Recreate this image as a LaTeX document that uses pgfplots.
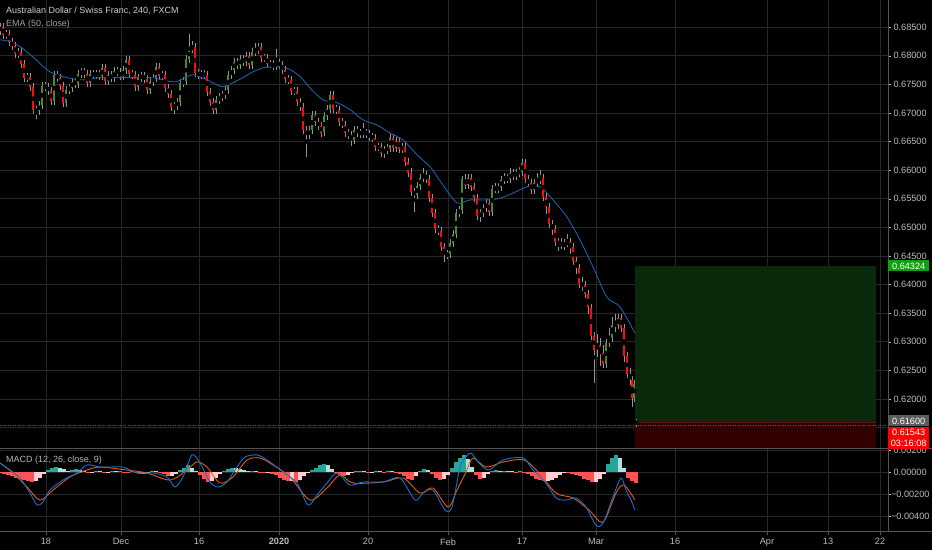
\documentclass[border=0pt]{standalone}
\usepackage{pgfplots}
\pgfplotsset{compat=1.18}
\usepackage{pgfplotstable}
\usepackage{fontspec}
\setmainfont{Liberation Sans}

\definecolor{upc}{RGB}{70,140,40}
\definecolor{dnc}{RGB}{250,12,12}
\definecolor{wickc}{RGB}{150,150,150}
\definecolor{emac}{RGB}{28,95,165}
\definecolor{macdc}{RGB}{22,112,210}
\definecolor{sigc}{RGB}{232,92,12}
\definecolor{hgrow}{RGB}{38,166,154}
\definecolor{hfall}{RGB}{178,223,219}
\definecolor{lgrow}{RGB}{255,205,210}
\definecolor{lfall}{RGB}{255,82,82}
\definecolor{gridc}{RGB}{40,40,40}
\definecolor{labc}{RGB}{188,188,188}
\definecolor{sepc}{RGB}{85,85,85}
\definecolor{tpfill}{RGB}{10,40,10}
\definecolor{slfill}{RGB}{50,0,0}
\definecolor{tplab}{RGB}{16,160,16}
\definecolor{curgrey}{RGB}{92,92,92}

% 4h candles (grouped), x in pixels of the time scale
\pgfplotstableread{
x o h l c
0 0.6844 0.6857 0.6837 0.6850
3 0.6850 0.6857 0.6829 0.6836
6 0.6836 0.6846 0.6829 0.6839
9 0.6839 0.6846 0.6817 0.6824
12 0.6824 0.6831 0.6811 0.6818
15 0.6818 0.6825 0.6796 0.6803
18 0.6803 0.6813 0.6796 0.6806
21 0.6806 0.6813 0.6779 0.6786
24 0.6786 0.6793 0.6755 0.6762
27 0.6762 0.6770 0.6755 0.6763
30 0.6763 0.6770 0.6738 0.6745
33 0.6745 0.6752 0.6698 0.6705
36 0.6705 0.6712 0.6690 0.6704
39 0.6704 0.6721 0.6697 0.6714
42 0.6714 0.6755 0.6707 0.6748
45 0.6748 0.6755 0.6738 0.6745
48 0.6745 0.6752 0.6732 0.6739
51 0.6739 0.6746 0.6714 0.6721
54 0.6721 0.6773 0.6714 0.6766
57 0.6766 0.6773 0.6754 0.6761
60 0.6761 0.6768 0.6741 0.6748
63 0.6748 0.6755 0.6710 0.6717
66 0.6717 0.6748 0.6710 0.6741
69 0.6741 0.6751 0.6734 0.6744
72 0.6744 0.6762 0.6737 0.6755
75 0.6755 0.6762 0.6744 0.6751
78 0.6751 0.6776 0.6744 0.6769
81 0.6769 0.6779 0.6762 0.6772
84 0.6772 0.6779 0.6762 0.6769
87 0.6769 0.6776 0.6745 0.6752
90 0.6752 0.6776 0.6745 0.6769
93 0.6769 0.6776 0.6759 0.6766
96 0.6766 0.6776 0.6759 0.6769
99 0.6769 0.6776 0.6758 0.6765
102 0.6765 0.6785 0.6758 0.6778
105 0.6778 0.6785 0.6749 0.6756
108 0.6756 0.6773 0.6749 0.6766
111 0.6766 0.6773 0.6754 0.6761
114 0.6761 0.6780 0.6754 0.6773
117 0.6773 0.6780 0.6765 0.6772
120 0.6772 0.6779 0.6757 0.6764
123 0.6764 0.6782 0.6757 0.6775
126 0.6775 0.6799 0.6768 0.6792
129 0.6792 0.6799 0.6761 0.6768
132 0.6768 0.6775 0.6759 0.6766
135 0.6766 0.6773 0.6738 0.6745
138 0.6745 0.6769 0.6738 0.6762
141 0.6762 0.6772 0.6755 0.6765
144 0.6765 0.6772 0.6752 0.6759
147 0.6759 0.6766 0.6733 0.6740
150 0.6740 0.6762 0.6733 0.6755
153 0.6755 0.6768 0.6748 0.6761
156 0.6761 0.6787 0.6754 0.6780
159 0.6780 0.6787 0.6758 0.6765
162 0.6765 0.6773 0.6758 0.6766
165 0.6766 0.6773 0.6737 0.6744
168 0.6744 0.6751 0.6727 0.6734
171 0.6734 0.6741 0.6703 0.6710
174 0.6710 0.6720 0.6699 0.6713
177 0.6713 0.6726 0.6706 0.6719
180 0.6719 0.6759 0.6712 0.6752
183 0.6752 0.6763 0.6745 0.6756
186 0.6756 0.6801 0.6749 0.6794
189 0.6794 0.6838 0.6787 0.6812
192 0.6812 0.6826 0.6805 0.6815
195 0.6815 0.6822 0.6763 0.6770
198 0.6770 0.6777 0.6760 0.6767
201 0.6767 0.6775 0.6760 0.6768
204 0.6768 0.6775 0.6759 0.6766
207 0.6766 0.6773 0.6730 0.6737
210 0.6737 0.6744 0.6713 0.6720
213 0.6720 0.6727 0.6698 0.6705
216 0.6705 0.6729 0.6698 0.6722
219 0.6722 0.6735 0.6715 0.6728
222 0.6728 0.6738 0.6721 0.6731
225 0.6731 0.6747 0.6724 0.6740
228 0.6740 0.6774 0.6733 0.6767
231 0.6767 0.6782 0.6760 0.6775
234 0.6775 0.6797 0.6768 0.6790
237 0.6790 0.6797 0.6777 0.6784
240 0.6784 0.6802 0.6777 0.6795
243 0.6795 0.6802 0.6782 0.6789
246 0.6789 0.6807 0.6782 0.6800
249 0.6800 0.6807 0.6777 0.6784
252 0.6784 0.6813 0.6777 0.6806
255 0.6806 0.6822 0.6799 0.6810
258 0.6810 0.6822 0.6803 0.6815
261 0.6815 0.6822 0.6789 0.6796
264 0.6796 0.6804 0.6789 0.6797
267 0.6797 0.6804 0.6779 0.6786
270 0.6786 0.6793 0.6778 0.6785
273 0.6785 0.6792 0.6775 0.6782
276 0.6782 0.6812 0.6775 0.6788
279 0.6788 0.6795 0.6777 0.6784
282 0.6784 0.6791 0.6769 0.6776
285 0.6776 0.6783 0.6752 0.6759
288 0.6759 0.6766 0.6750 0.6757
291 0.6757 0.6764 0.6731 0.6738
294 0.6738 0.6745 0.6731 0.6739
297 0.6739 0.6745 0.6712 0.6719
300 0.6719 0.6726 0.6703 0.6710
303 0.6710 0.6717 0.6663 0.6670
306 0.6670 0.6677 0.6623 0.6661
309 0.6661 0.6677 0.6654 0.6670
312 0.6670 0.6704 0.6663 0.6697
315 0.6697 0.6704 0.6677 0.6684
318 0.6684 0.6691 0.6671 0.6678
321 0.6678 0.6685 0.6659 0.6666
324 0.6666 0.6702 0.6659 0.6695
327 0.6695 0.6714 0.6688 0.6707
330 0.6707 0.6738 0.6700 0.6731
333 0.6731 0.6738 0.6700 0.6707
336 0.6707 0.6714 0.6699 0.6706
339 0.6706 0.6713 0.6677 0.6684
342 0.6684 0.6691 0.6673 0.6680
345 0.6680 0.6687 0.6658 0.6665
348 0.6665 0.6672 0.6655 0.6662
351 0.6662 0.6669 0.6642 0.6653
354 0.6653 0.6678 0.6646 0.6671
357 0.6671 0.6678 0.6659 0.6666
360 0.6666 0.6673 0.6657 0.6664
363 0.6664 0.6682 0.6657 0.6666
366 0.6666 0.6673 0.6657 0.6664
369 0.6664 0.6671 0.6651 0.6658
372 0.6658 0.6665 0.6650 0.6657
375 0.6657 0.6664 0.6633 0.6640
378 0.6640 0.6648 0.6633 0.6641
381 0.6641 0.6648 0.6623 0.6630
384 0.6630 0.6643 0.6622 0.6636
387 0.6636 0.6646 0.6629 0.6639
390 0.6639 0.6664 0.6632 0.6657
393 0.6657 0.6664 0.6632 0.6639
396 0.6639 0.6659 0.6632 0.6652
399 0.6652 0.6659 0.6630 0.6637
402 0.6637 0.6647 0.6630 0.6640
405 0.6640 0.6647 0.6607 0.6614
408 0.6614 0.6621 0.6589 0.6596
411 0.6596 0.6603 0.6555 0.6562
414 0.6562 0.6569 0.6527 0.6557
417 0.6557 0.6579 0.6550 0.6572
420 0.6572 0.6594 0.6565 0.6587
423 0.6587 0.6603 0.6580 0.6591
426 0.6591 0.6598 0.6578 0.6585
429 0.6585 0.6592 0.6544 0.6551
432 0.6551 0.6558 0.6519 0.6526
435 0.6526 0.6533 0.6490 0.6497
438 0.6497 0.6504 0.6486 0.6493
441 0.6493 0.6500 0.6458 0.6465
444 0.6465 0.6472 0.6439 0.6452
447 0.6452 0.6460 0.6445 0.6453
450 0.6453 0.6479 0.6446 0.6472
453 0.6472 0.6495 0.6465 0.6488
456 0.6488 0.6533 0.6481 0.6526
459 0.6526 0.6537 0.6519 0.6530
462 0.6530 0.6590 0.6523 0.6584
465 0.6584 0.6594 0.6567 0.6574
468 0.6574 0.6594 0.6567 0.6587
471 0.6587 0.6594 0.6563 0.6570
474 0.6570 0.6577 0.6545 0.6552
477 0.6552 0.6559 0.6513 0.6520
480 0.6520 0.6533 0.6510 0.6526
483 0.6526 0.6541 0.6519 0.6534
486 0.6534 0.6550 0.6527 0.6543
489 0.6543 0.6550 0.6520 0.6527
492 0.6527 0.6575 0.6520 0.6568
495 0.6568 0.6578 0.6560 0.6567
498 0.6567 0.6577 0.6560 0.6570
501 0.6570 0.6590 0.6563 0.6583
504 0.6583 0.6596 0.6576 0.6587
507 0.6587 0.6594 0.6577 0.6584
510 0.6584 0.6603 0.6577 0.6596
513 0.6596 0.6603 0.6583 0.6590
516 0.6590 0.6603 0.6583 0.6596
519 0.6596 0.6606 0.6589 0.6597
522 0.6597 0.6619 0.6590 0.6612
525 0.6612 0.6619 0.6577 0.6584
528 0.6584 0.6591 0.6570 0.6577
531 0.6577 0.6584 0.6558 0.6565
534 0.6565 0.6585 0.6558 0.6578
537 0.6578 0.6595 0.6571 0.6583
540 0.6583 0.6600 0.6576 0.6587
543 0.6587 0.6594 0.6546 0.6553
546 0.6553 0.6560 0.6523 0.6535
549 0.6535 0.6542 0.6499 0.6506
552 0.6506 0.6513 0.6486 0.6498
555 0.6498 0.6505 0.6467 0.6474
558 0.6474 0.6481 0.6458 0.6472
561 0.6472 0.6481 0.6462 0.6469
564 0.6469 0.6479 0.6460 0.6472
567 0.6472 0.6488 0.6465 0.6474
570 0.6474 0.6481 0.6453 0.6465
573 0.6465 0.6472 0.6434 0.6441
576 0.6441 0.6448 0.6418 0.6430
579 0.6430 0.6437 0.6394 0.6401
582 0.6401 0.6413 0.6388 0.6400
585 0.6400 0.6407 0.6376 0.6383
588 0.6383 0.6390 0.6348 0.6360
591 0.6360 0.6367 0.6304 0.6311
594 0.6311 0.6318 0.6228 0.6286
597 0.6286 0.6314 0.6274 0.6294
600 0.6294 0.6306 0.6258 0.6281
603 0.6281 0.6294 0.6254 0.6261
606 0.6261 0.6305 0.6254 0.6298
609 0.6298 0.6324 0.6291 0.6306
612 0.6306 0.6344 0.6299 0.6330
615 0.6330 0.6349 0.6318 0.6329
618 0.6329 0.6349 0.6322 0.6342
621 0.6342 0.6349 0.6318 0.6325
624 0.6325 0.6332 0.6264 0.6276
627 0.6276 0.6283 0.6236 0.6243
630 0.6243 0.6255 0.6225 0.6233
632 0.6233 0.6241 0.6186 0.6202
634 0.6202 0.6234 0.6194 0.6226
636 0.6162 0.6166 0.6152 0.6154
}\candles

% MACD histogram; k: 0 grow above, 1 fall above, 2 fall below, 3 grow below
\pgfplotstableread{
x v k
0 -0.0001 2
4 -0.0002 2
8 -0.0003 2
12 -0.0004 2
16 -0.0005 2
20 -0.0006 2
24 -0.0007 2
28 -0.0008 2
32 -0.0009 2
36 -0.0008 3
40 -0.0005 3
44 -0.0002 3
48 0.0002 0
52 0.0004 0
56 0.0005 0
60 0.0004 1
64 0.0003 1
68 0.0001 1
72 0.0002 0
76 0.0003 0
80 0.0002 1
84 0.0001 1
88 -0.0001 2
92 -0.0001 3
96 0.0001 0
100 0.0001 1
104 -0.0001 2
108 -0.0001 3
112 0.0001 0
116 0.0001 1
120 0.0001 0
124 -0.0001 2
128 -0.0001 2
132 0.0001 0
136 -0.0001 2
140 -0.0002 2
144 -0.0002 3
148 -0.0001 3
152 0.0001 0
156 0.0001 1
160 -0.0001 2
164 -0.0002 2
168 -0.0004 2
172 -0.0004 3
176 -0.0002 3
180 0.0002 0
184 0.0004 0
188 0.0006 0
192 0.0004 1
196 0.0001 1
200 -0.0003 2
204 -0.0006 2
208 -0.0009 2
212 -0.0008 3
216 -0.0005 3
220 -0.0002 3
224 0.0001 0
228 0.0003 0
232 0.0004 0
236 0.0004 1
240 0.0003 1
244 0.0002 1
248 0.0001 1
252 0.0001 0
256 0.0001 1
260 -0.0001 2
264 -0.0001 2
268 -0.0001 3
272 -0.0002 2
276 -0.0003 2
280 -0.0005 2
284 -0.0007 2
288 -0.0008 2
292 -0.0008 3
296 -0.0009 2
300 -0.0007 3
304 -0.0004 3
308 -0.0001 3
312 0.0002 0
316 0.0004 0
320 0.0006 0
324 0.0007 0
328 0.0006 1
332 0.0003 1
336 -0.0001 2
340 -0.0003 2
344 -0.0004 2
348 -0.0003 3
352 -0.0001 3
356 0.00005 0
360 0.0001 0
364 0.0001 1
368 -0.0001 2
372 -0.0001 3
376 0.0001 0
380 0.0001 1
384 -0.0001 2
388 0.0001 0
392 0.0001 1
396 -0.0001 2
400 -0.0002 2
404 -0.0004 2
408 -0.0006 2
412 -0.0007 2
416 -0.0004 3
420 0.0001 0
424 0.0003 0
428 0.0002 1
432 -0.0002 2
436 -0.0005 2
440 -0.0007 2
444 -0.0006 3
448 -0.0003 3
452 0.0004 0
456 0.0009 0
460 0.0013 0
464 0.0015 0
468 0.0012 1
472 0.0005 1
476 -0.0003 2
480 -0.0006 2
484 -0.0005 3
488 -0.0002 3
492 0.0001 0
496 0.0002 0
500 0.0001 1
504 0.0001 0
508 0.0001 1
512 0.00005 1
516 -0.0001 2
520 0.0001 0
524 -0.0001 2
528 -0.0002 2
532 -0.0004 2
536 -0.0006 2
540 -0.0007 2
544 -0.0008 2
548 -0.0008 3
552 -0.0007 3
556 -0.0005 3
560 -0.0003 3
564 -0.0001 3
568 -0.0001 2
572 -0.0002 2
576 -0.0003 2
580 -0.0004 2
584 -0.0006 2
588 -0.0007 2
592 -0.0009 2
596 -0.0009 3
600 -0.0006 3
604 -0.0002 3
608 0.0007 0
612 0.0013 0
616 0.0015 0
620 0.0013 1
624 0.0004 1
628 -0.0005 2
632 -0.0008 2
636 -0.0010 2
}\hist

\pgfplotsset{
  tvaxis/.style={
    scale only axis, width=888bp, xmin=0, xmax=888,
    axis line style={draw=none},
    xtick={46,121,199,279,368,448,522,596,675,767,828,880},
    xtick pos=bottom,
    ytick style={draw=labc, line width=0.6bp},
    major tick length=3bp, tick align=outside,
    ytick pos=right, yticklabel pos=right,
    xmajorgrids, ymajorgrids, extra tick style={grid=major},
    grid style={draw=gridc, line width=0.8bp},
    scaled y ticks=false,
    ticklabel style={font=\fontsize{9.2}{11}\selectfont, text=labc},
    yticklabel style={anchor=west, xshift=-1bp},
  }
}

\begin{document}
\begin{tikzpicture}
\fill[black] (0,0) rectangle (932bp,550bp);
\useasboundingbox (0,0) rectangle (932bp,550bp);

% price panel
\begin{axis}[tvaxis, at={(0,550bp)}, anchor=north west, height=449bp,
  ymin=0.61126, ymax=0.68976,
  xticklabels={}, xtick style={draw=none},
  ytick={0.620,0.625,0.630,0.635,0.640,0.645,0.650,0.655,0.660,0.665,0.670,0.675,0.680,0.685},
  extra y ticks={0.615}, extra y tick labels={},
  yticklabel style={/pgf/number format/.cd, fixed, fixed zerofill, precision=5, assume math mode=true}]
% long position tool
\addplot[fill=tpfill, draw=none] coordinates {(635,0.6160) (876,0.6160) (876,0.64324) (635,0.64324) (635,0.6160)};
\addplot[fill=slfill, draw=none] coordinates {(635,0.6050) (876,0.6050) (876,0.6160) (635,0.6160) (635,0.6050)};
\addplot[draw={rgb,255:red,95;green,20;blue,20}, line width=1.6bp] coordinates {(635,0.6159) (876,0.6159)};
% wicks
\addplot[only marks, mark=none, error bars/.cd, y dir=both, y explicit, error mark=none,
  error bar style={draw=wickc, line width=1bp}]
  table[x=x, y expr={(\thisrow{h}+\thisrow{l})/2}, y error expr={(\thisrow{h}-\thisrow{l})/2}] {\candles};
% bodies
\addplot[only marks, mark=none, restrict expr to domain={\thisrow{c}-\thisrow{o}}{0:1},
  error bars/.cd, y dir=both, y explicit, error mark=none,
  error bar style={draw=upc, line width=2.8bp}]
  table[x=x, y expr={(\thisrow{o}+\thisrow{c})/2}, y error expr={abs(\thisrow{c}-\thisrow{o})/2}] {\candles};
\addplot[only marks, mark=none, restrict expr to domain={\thisrow{c}-\thisrow{o}}{-1:0},
  error bars/.cd, y dir=both, y explicit, error mark=none,
  error bar style={draw=dnc, line width=2.8bp}]
  table[x=x, y expr={(\thisrow{o}+\thisrow{c})/2}, y error expr={abs(\thisrow{c}-\thisrow{o})/2}] {\candles};
% EMA 50
\addplot[emac, line width=0.9bp, smooth, mark=none] coordinates {
(0,0.6828) (10,0.6825) (20,0.6816) (33,0.6798) (50,0.6772) (67,0.6762) (83,0.6758)
(100,0.6762) (117,0.6762) (133,0.6762) (150,0.6762) (163,0.6758) (170,0.6755) (177,0.6755)
(185,0.6762) (193,0.6767) (200,0.6763) (207,0.6758) (217,0.6749) (223,0.6746) (233,0.6753)
(243,0.6762) (253,0.6772) (263,0.6779) (270,0.6781) (280,0.6781) (290,0.6776) (300,0.6764)
(310,0.6744) (323,0.6723) (337,0.6718) (350,0.6706) (363,0.6688) (377,0.6679) (390,0.6665)
(403,0.6653) (417,0.6627) (430,0.6606) (443,0.6574) (457,0.6543) (470,0.6548) (487,0.6548)
(500,0.6551) (513,0.6560) (527,0.6571) (540,0.6571) (553,0.6548) (567,0.6518) (580,0.6478)
(593,0.6431) (607,0.6378) (620,0.6361) (635,0.6315)};
% last price
\addplot[dnc, line width=0.8bp, dash pattern=on 1bp off 1.5bp] coordinates {(0,0.61543) (888,0.61543)};
\end{axis}

% MACD panel
\begin{axis}[tvaxis, at={(0,101bp)}, anchor=north west, height=83bp,
  ymin=-0.00545, ymax=0.00209,
  xtick style={draw=sepc, line width=0.6bp},
  xticklabels={\mbox{18},\mbox{Dec},\mbox{16},\mbox{\textbf{2020}},\mbox{20},\mbox{Feb},\mbox{17},\mbox{Mar},\mbox{16},\mbox{Apr},\mbox{13},\mbox{22}},
  ytick={0,0.002}, yticklabels={\mbox{0.00000},\mbox{0.00200}},
  extra y ticks={-0.004,-0.002}, extra y tick labels={\mbox{−0.00400},\mbox{−0.00200}},
  extra y tick style={tick label style={xshift=-2.5bp}}]
\addplot[ycomb, mark=none, line width=3.8bp, draw=hgrow, restrict expr to domain={\thisrow{k}}{0:0}] table[x=x, y=v] {\hist};
\addplot[ycomb, mark=none, line width=3.8bp, draw=hfall, restrict expr to domain={\thisrow{k}}{1:1}] table[x=x, y=v] {\hist};
\addplot[ycomb, mark=none, line width=3.8bp, draw=lfall, restrict expr to domain={\thisrow{k}}{2:2}] table[x=x, y=v] {\hist};
\addplot[ycomb, mark=none, line width=3.8bp, draw=lgrow, restrict expr to domain={\thisrow{k}}{3:3}] table[x=x, y=v] {\hist};
% signal
\addplot[sigc, line width=0.9bp, smooth, mark=none] coordinates {
(0,0.00082) (13,-0.00009) (27,-0.00136) (40,-0.00255) (53,-0.00164) (70,-0.00045) (87,0.00018)
(100,0.00045) (127,0.00018) (147,-0.00009) (170,-0.00073) (187,0.00018) (197,0.00091) (207,0.00045)
(220,-0.00100) (233,-0.00045) (247,0.00109) (260,0.00127) (273,0.00064) (290,-0.00045) (310,-0.00255)
(327,-0.00145) (340,-0.00027) (353,-0.00100) (383,-0.00091) (403,-0.00055) (420,-0.00191) (433,-0.00145)
(448,-0.00318) (457,-0.00164) (466,0) (473,0.00127) (486,0.00045) (503,0.00091) (524,0.00109)
(539,-0.00009) (556,-0.00191) (573,-0.00236) (589,-0.00345) (603,-0.00455) (616,-0.00191) (624,-0.00118)
(635,-0.00255)};
% MACD line
\addplot[macdc, line width=0.9bp, smooth, mark=none] coordinates {
(0,0.00082) (10,0.00018) (20,-0.00055) (30,-0.00191) (37,-0.00300) (43,-0.00273) (50,-0.00164)
(63,-0.00073) (77,-0.00009) (87,0.00064) (100,0.00045) (110,0.00045) (123,0.00045) (137,-0.00009)
(153,-0.00009) (167,-0.00045) (175,-0.00136) (183,-0.00045) (192,0.00155) (200,0.00082) (210,-0.00091)
(218,-0.00136) (227,-0.00091) (237,0.00045) (245,0.00136) (257,0.00155) (267,0.00109) (283,0)
(297,-0.00100) (308,-0.00300) (317,-0.00209) (327,-0.00100) (337,-0.00009) (350,-0.00118) (363,-0.00091)
(383,-0.00091) (400,-0.00055) (415,-0.00255) (423,-0.00191) (433,-0.00164) (445,-0.00345) (452,-0.00318)
(460,0.00045) (466,0.00136) (471,0.00173) (479,0.00082) (489,0.00018) (503,0.00109) (523,0.00127)
(533,0.00018) (546,-0.00100) (556,-0.00236) (566,-0.00255) (576,-0.00236) (586,-0.00318) (596,-0.00482)
(603,-0.00464) (613,-0.00227) (621,-0.00055) (626,-0.00164) (631,-0.00255) (635,-0.00345)};
\end{axis}

% panel frames
\draw[sepc, line width=1.5bp] (0,101.5bp) -- (932bp,101.5bp);
\draw[sepc, line width=1bp] (0,18bp) -- (932bp,18bp);
\draw[sepc, line width=1bp] (888bp,18bp) -- (888bp,550bp);

% legends
\node[anchor=base west, inner sep=0, text={rgb,255:red,205;green,205;blue,205}, font=\fontsize{9}{11}\selectfont] at (6bp,536bp) {Australian Dollar / Swiss Franc, 240, FXCM};
\node[anchor=base west, inner sep=0, text={rgb,255:red,160;green,160;blue,160}, font=\fontsize{9}{11}\selectfont] at (6bp,523bp) {EMA (50, close)};
\node[anchor=base west, inner sep=0, text={rgb,255:red,185;green,185;blue,185}, font=\fontsize{9}{11}\selectfont] at (6bp,87bp) {MACD (12, 26, close, 9)};

% price scale labels
\tikzset{pl/.style={anchor=west, inner sep=0, minimum width=41bp, minimum height=11bp, text=white, font=\fontsize{9.2}{11}\selectfont}}
\node[pl, fill=tplab] at (888bp,284bp) {0.64324};
\node[pl, fill=curgrey] at (888bp,129bp) {0.61600};
\node[pl, fill=red] at (888bp,117.5bp) {0.61543};
\node[pl, fill=red, minimum height=10.5bp] at (888bp,106.5bp) {03:16:08};
\end{tikzpicture}
\end{document}
